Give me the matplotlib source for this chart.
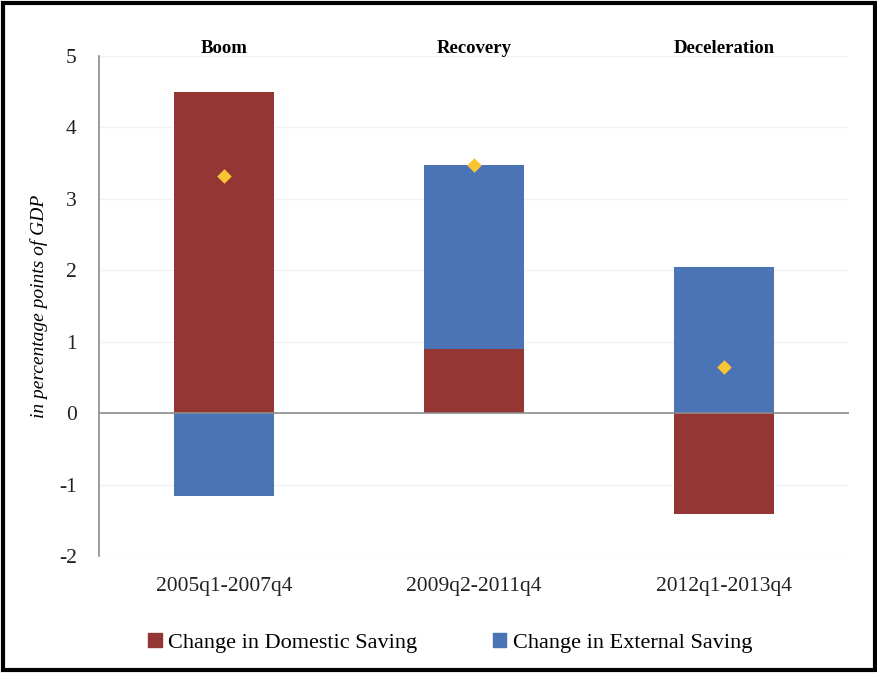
import matplotlib.pyplot as plt
from matplotlib.patches import Patch, Rectangle

plt.rcParams['font.family'] = ['Liberation Serif', 'DejaVu Serif']
plt.rcParams['axes.unicode_minus'] = False

# data
periods = ["2005q1-2007q4", "2009q2-2011q4", "2012q1-2013q4"]
phases = ["Boom", "Recovery", "Deceleration"]
domestic = [4.5, 0.9, -1.41]
external = [-1.16, 2.57, 2.04]
net = [3.32, 3.47, 0.64]

red = "#943634"
blue = "#4a74b5"
gold = "#f9c534"

fig = plt.figure(figsize=(8.78, 6.73), dpi=100)
ax = fig.add_axes([0.1128, 0.1738, 0.8542, 0.743])

x = range(len(periods))
# positives stack up from zero, negatives hang below it
for i in x:
    d, e = domestic[i], external[i]
    if d >= 0 and e >= 0:
        ax.bar(i, d, 0.4, color=red, zorder=2)
        ax.bar(i, e, 0.4, bottom=d, color=blue, zorder=2)
    else:
        ax.bar(i, d, 0.4, color=red, zorder=2)
        ax.bar(i, e, 0.4, color=blue, zorder=2)

ax.scatter(list(x), net, marker="D", s=55, color=gold, zorder=3, linewidths=0)

ax.set_xlim(-0.5, 2.5)
ax.set_ylim(-2, 5)
ax.set_yticks(range(-2, 6))
ax.set_xticks(list(x))
ax.set_xticklabels(periods)
ax.tick_params(axis="both", length=0, labelsize=15.5, colors="#222222")
ax.tick_params(axis="y", pad=16)
ax.tick_params(axis="x", pad=15)
ax.grid(axis="y", color="#f2f2f2", linewidth=1, zorder=0)
ax.axhline(0, color="#8c8c8c", linewidth=1.2, zorder=4)

for s in ["top", "right", "bottom"]:
    ax.spines[s].set_visible(False)
ax.spines["left"].set_color("#8c8c8c")
ax.spines["left"].set_linewidth(1.2)

ax.set_ylabel("in percentage points of GDP", fontstyle="italic", fontsize=14)
ax.yaxis.set_label_coords(-0.068, 0.5)

for i, name in enumerate(phases):
    ax.text(i, 5.11, name, ha="center", va="center", fontweight="bold", fontsize=13.5)

handles = [Patch(color=red, label="Change in Domestic Saving"),
           Patch(color=blue, label="Change in External Saving")]
fig.legend(handles=handles, loc="center", bbox_to_anchor=(0.513, 0.045), ncol=2,
           frameon=False, fontsize=16, handlelength=0.6, handleheight=0.6,
           handletextpad=0.3, columnspacing=3.4)

# outer frame
fig.patches.append(Rectangle((0.003, 0.004), 0.994, 0.992, transform=fig.transFigure,
                             fill=False, edgecolor="black", linewidth=3))

fig.savefig("out.png", dpi=100)
